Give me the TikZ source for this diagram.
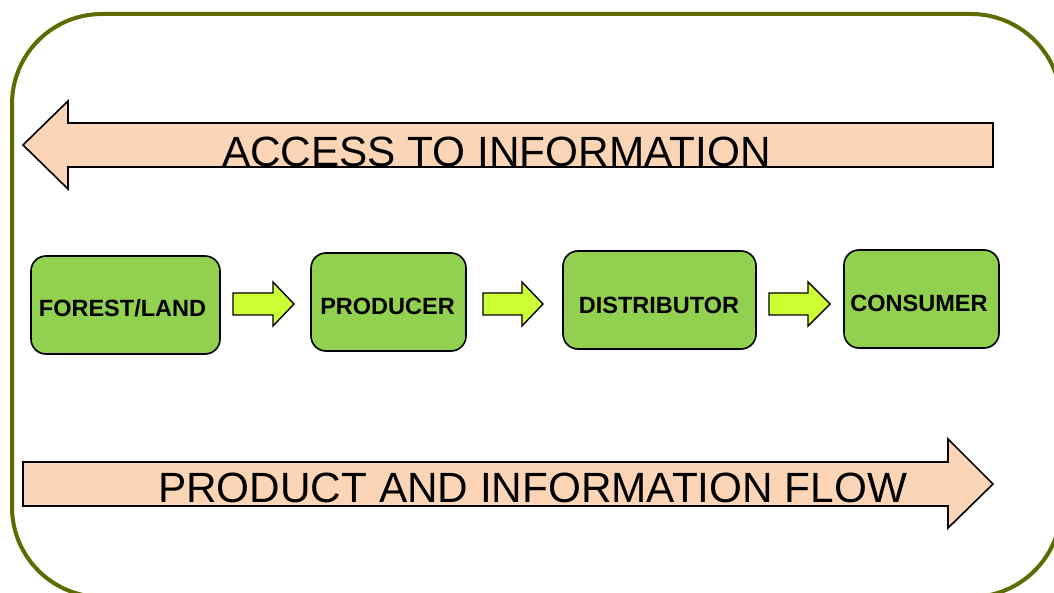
\documentclass[tikz,border=0pt]{standalone}
\usepackage{fontspec}
\setmainfont{Liberation Sans}
\definecolor{frameol}{RGB}{95,107,0}
\definecolor{peach}{RGB}{251,213,181}
\definecolor{boxgreen}{RGB}{146,208,80}
\definecolor{lime}{RGB}{204,255,51}
\begin{document}
\begin{tikzpicture}[x=1pt,y=-1pt,
  frame/.style={draw=frameol,line width=4pt,rounded corners=90pt},
  bigarrow/.style={draw=black,fill=peach,line width=1.6pt,line join=miter},
  bigtext/.style={inner sep=0pt,font=\fontsize{42.3}{44}\selectfont},
  stage/.style={draw=black,fill=boxgreen,line width=1.6pt,rounded corners=15pt,
    inner sep=0pt,font=\bfseries\fontsize{23.5}{25}\selectfont},
  smallarrow/.style={draw=black,fill=lime,line width=1.4pt,line join=miter}]
\useasboundingbox (0,0) rectangle (1054,593);
\clip (0,0) rectangle (1054,593);
\draw[frame] (12,14) rectangle (1061,597);
% top arrow
\draw[bigarrow] (23,145) -- (68,101) -- (68,123) -- (993,123) -- (993,167) -- (68,167) -- (68,189) -- cycle;
\node[bigtext,anchor=base west] (access) at (222,167) {ACCESS TO INFORMATION};
% bottom arrow
\draw[bigarrow] (23,462) -- (948,462) -- (948,439) -- (993,484) -- (948,528) -- (948,506) -- (23,506) -- cycle;
\node[bigtext,anchor=base west] (flow) at (158,502) {PRODUCT AND INFORMATION FLOW};
% stages
\node[stage,minimum width=189pt,minimum height=98pt] (forest) at (125.5,305) {};
\node[inner sep=0pt,font=\bfseries\fontsize{23.5}{25}\selectfont,anchor=base] (forestt) at (122.5,317) {FOREST/LAND};
\node[stage,minimum width=155pt,minimum height=98pt] (prod) at (388.5,302) {};
\node[inner sep=0pt,font=\bfseries\fontsize{23.5}{25}\selectfont,anchor=base] (prodt) at (387.5,315) {PRODUCER};
\node[stage,minimum width=193pt,minimum height=98pt] (dist) at (659.5,300) {};
\node[inner sep=0pt,font=\bfseries\fontsize{23.5}{25}\selectfont,anchor=base] (distt) at (659,313) {DISTRIBUTOR};
\node[stage,minimum width=155pt,minimum height=98pt] (cons) at (921.5,299) {};
\node[inner sep=0pt,font=\bfseries\fontsize{23.5}{25}\selectfont,anchor=base] (const) at (919,312) {CONSUMER};
% small arrows
\draw[smallarrow] (233,293) -- (273,293) -- (273,282) -- (294,304) -- (273,326) -- (273,315) -- (233,315) -- cycle;
\draw[smallarrow] (483,293) -- (522,293) -- (522,282) -- (543,304) -- (522,326) -- (522,315) -- (483,315) -- cycle;
\draw[smallarrow] (769,293) -- (808,293) -- (808,282) -- (830,304) -- (808,326) -- (808,315) -- (769,315) -- cycle;
\end{tikzpicture}
\end{document}
